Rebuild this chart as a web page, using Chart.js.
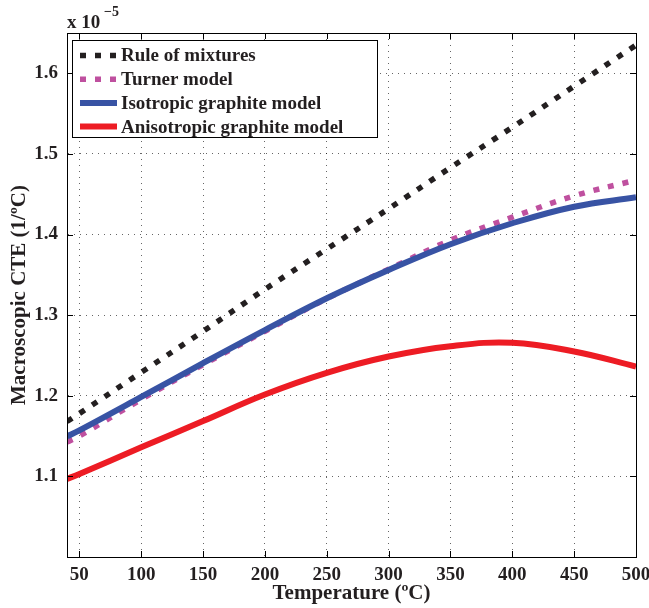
<!DOCTYPE html>
<html>
<head>
<meta charset="utf-8">
<script src="https://cdn.jsdelivr.net/npm/chart.js@4.4.1/dist/chart.umd.min.js"></script>
<style>
  html, body { margin: 0; padding: 0; background: #fff; }
  #chart { display: block; }
</style>
</head>
<body>
<canvas id="chart" width="649" height="608"></canvas>
<script>
// values, in units of 1e-5 per degree C
const temps = [40, 50, 100, 150, 200, 250, 300, 350, 400, 450, 500]
const ruleOfMixtures = [1.168, 1.178, 1.229, 1.280, 1.332, 1.382, 1.432, 1.483, 1.533, 1.584, 1.635]
const turner = [1.1426, 1.150, 1.1955, 1.2385, 1.2800, 1.3205, 1.3570, 1.3930, 1.4215, 1.4480, 1.4675]
const isotropic = [1.1496, 1.157, 1.1985, 1.2405, 1.2815, 1.3210, 1.3560, 1.3880, 1.4140, 1.4345, 1.4462]
const anisotropic = [1.0968, 1.1030, 1.1360, 1.1686, 1.2016, 1.2285, 1.2487, 1.2615, 1.2658, 1.2549, 1.2363]

const seriesNames = ['Rule of mixtures', 'Turner model', 'Isotropic graphite model', 'Anisotropic graphite model']
const xTicks = [50, 100, 150, 200, 250, 300, 350, 400, 450, 500]
const yTicks = [1.1, 1.2, 1.3, 1.4, 1.5, 1.6]

const SERIF = '"Liberation Serif", "Times New Roman", serif'

const toPoints = (ys) => temps.map((t, i) => ({ x: t, y: ys[i] }))

// MATLAB-ish frame: box on all four sides, inward ticks, exponent label
const framePlugin = {
  id: 'frame',
  afterDatasetsDraw(chart) {
    const { ctx, chartArea: a, scales } = chart
    ctx.save()
    ctx.strokeStyle = '#000'
    ctx.lineWidth = 1
    ctx.beginPath()
    xTicks.forEach(v => {
      const px = Math.round(scales.x.getPixelForValue(v)) + 0.5
      ctx.moveTo(px, a.bottom); ctx.lineTo(px, a.bottom - 6)
      ctx.moveTo(px, a.top); ctx.lineTo(px, a.top + 6)
    })
    yTicks.forEach(v => {
      const py = Math.round(scales.y.getPixelForValue(v)) + 0.5
      ctx.moveTo(a.left, py); ctx.lineTo(a.left + 6, py)
      ctx.moveTo(a.right, py); ctx.lineTo(a.right - 6, py)
    })
    ctx.stroke()
    ctx.strokeRect(Math.round(a.left) + 0.5, Math.round(a.top) + 0.5,
      Math.round(a.right - a.left), Math.round(a.bottom - a.top))

    ctx.fillStyle = '#231f20'
    ctx.textBaseline = 'alphabetic'
    ctx.textAlign = 'left'
    ctx.font = 'bold 19px ' + SERIF
    ctx.fillText('x 10', 67, 28)
    ctx.font = 'bold 14px ' + SERIF
    ctx.fillText('\u22125', 104, 16)
    ctx.restore()
  },
  afterDraw(chart) {
    // legend box in the upper-left corner of the axes
    const { ctx } = chart
    const bx = 72.5, by = 40.5, bw = 305, bh = 97
    ctx.save()
    ctx.fillStyle = '#fff'
    ctx.fillRect(bx, by, bw, bh)
    ctx.strokeStyle = '#000'
    ctx.lineWidth = 1
    ctx.strokeRect(bx, by, bw, bh)
    chart.data.datasets.forEach((ds, i) => {
      const y = 55.5 + i * 23.7
      ctx.strokeStyle = ds.borderColor
      ctx.lineWidth = ds.borderWidth
      ctx.lineCap = 'butt'
      ctx.setLineDash(ds.borderDash || [])
      ctx.beginPath()
      ctx.moveTo(80, y); ctx.lineTo(117, y)
      ctx.stroke()
      ctx.setLineDash([])
      ctx.fillStyle = '#231f20'
      ctx.font = 'bold 19px ' + SERIF
      ctx.textBaseline = 'middle'
      ctx.fillText(ds.label, 121, y + 1)
    })
    ctx.restore()
  }
}

const ctx = document.getElementById('chart').getContext('2d')
new Chart(ctx, {
  type: 'line',
  data: {
    datasets: [
      {
        label: seriesNames[0],
        data: toPoints(ruleOfMixtures),
        borderColor: '#231f20',
        borderWidth: 5.5,
        borderDash: [6, 9],
        borderCapStyle: 'butt',
        order: 4
      },
      {
        label: seriesNames[1],
        data: toPoints(turner),
        borderColor: '#bf509f',
        borderWidth: 5.5,
        borderDash: [6, 9],
        borderCapStyle: 'butt',
        order: 3
      },
      {
        label: seriesNames[2],
        data: toPoints(isotropic),
        borderColor: '#3853a4',
        borderWidth: 6,
        order: 2
      },
      {
        label: seriesNames[3],
        data: toPoints(anisotropic),
        borderColor: '#ed1c24',
        borderWidth: 6,
        order: 1
      }
    ]
  },
  options: {
    responsive: false,
    animation: false,
    elements: {
      point: { radius: 0 },
      line: { tension: 0.4, fill: false }
    },
    layout: {
      autoPadding: false,
      padding: { top: 33, right: 13, left: 0, bottom: 0 }
    },
    plugins: {
      legend: { display: false },
      tooltip: { enabled: false }
    },
    scales: {
      x: {
        type: 'linear',
        min: 40,
        max: 500,
        afterBuildTicks: (scale) => { scale.ticks = xTicks.map(v => ({ value: v })) },
        afterFit: (scale) => {
          scale.height = 51
          scale.paddingLeft = 0
          scale.paddingRight = 0
        },
        border: { display: true, color: '#000', width: 1, dash: [1, 5] },
        grid: {
          drawTicks: false,
          color: 'rgba(0,0,0,0.6)',
          lineWidth: 1
        },
        ticks: {
          padding: 7,
          color: '#231f20',
          font: { family: SERIF, size: 19, weight: 'bold' },
          maxRotation: 0
        },
        title: {
          display: true,
          text: 'Temperature (\u00baC)',
          color: '#231f20',
          font: { family: SERIF, size: 21, weight: 'bold' },
          padding: { top: 0, bottom: 2 }
        }
      },
      y: {
        min: 1.0,
        max: 1.65,
        afterBuildTicks: (scale) => { scale.ticks = yTicks.map(v => ({ value: v })) },
        afterFit: (scale) => { scale.width = 67 },
        border: { display: true, color: '#000', width: 1, dash: [1, 5] },
        grid: {
          drawTicks: false,
          color: 'rgba(0,0,0,0.6)',
          lineWidth: 1
        },
        ticks: {
          padding: 9,
          color: '#231f20',
          font: { family: SERIF, size: 19, weight: 'bold' },
          callback: (v) => v.toFixed(1)
        },
        title: {
          display: true,
          text: 'Macroscopic CTE (1/\u00baC)',
          color: '#231f20',
          font: { family: SERIF, size: 21, weight: 'bold' },
          padding: { top: 7, bottom: 0 }
        }
      }
    }
  },
  plugins: [framePlugin]
})
</script>
</body>
</html>
